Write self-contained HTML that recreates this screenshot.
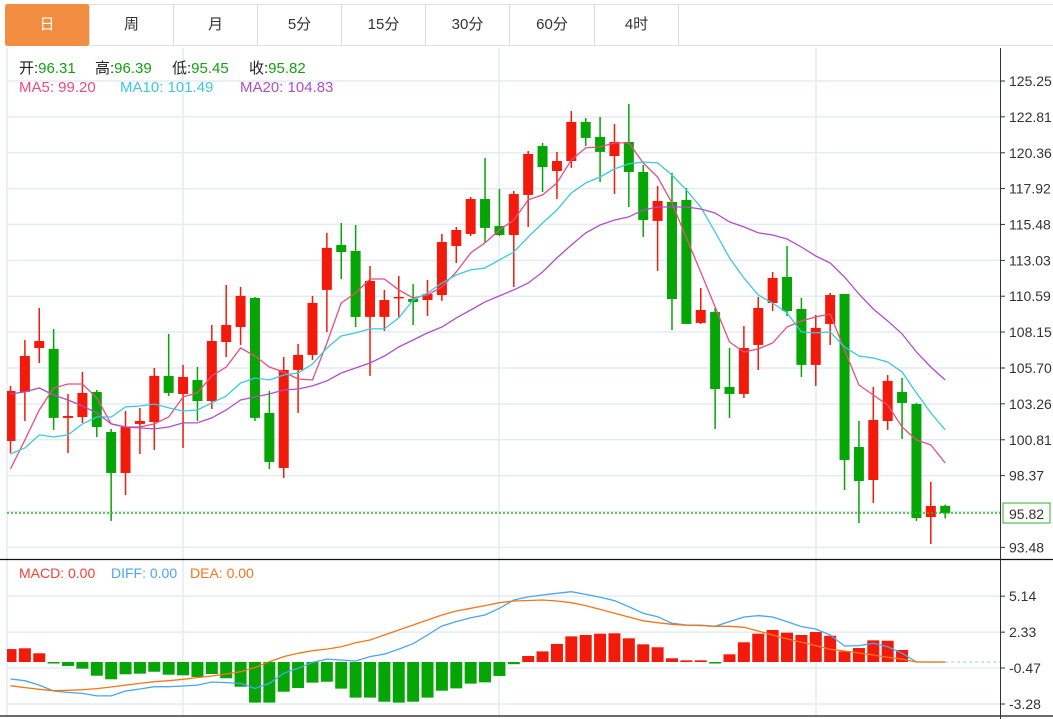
<!DOCTYPE html>
<html><head><meta charset="utf-8">
<style>
body{margin:0;width:1053px;height:719px;overflow:hidden;background:#fff;font-family:"Liberation Sans","Noto Sans CJK SC",sans-serif;}
.tab{position:absolute;top:4px;height:42px;line-height:42px;text-align:center;font-size:15px;color:#333;border-right:1px solid #dcdcdc;box-sizing:border-box;}
</style></head><body>
<div style="position:absolute;left:5px;top:4px;width:1048px;height:42px;border-top:1px solid #e0e0e0;border-bottom:1px solid #e0e0e0;box-sizing:border-box;"></div>
<div class="tab" style="left:5px;width:85px;background:#f28d42;color:#fff;border-radius:3px;">日</div>
<div class="tab" style="left:90px;width:84px;">周</div>
<div class="tab" style="left:174px;width:84px;">月</div>
<div class="tab" style="left:258px;width:84px;">5分</div>
<div class="tab" style="left:342px;width:84px;">15分</div>
<div class="tab" style="left:426px;width:84px;">30分</div>
<div class="tab" style="left:510px;width:85px;">60分</div>
<div class="tab" style="left:595px;width:84px;">4时</div>
<svg id="c" width="1053" height="719" style="position:absolute;left:0;top:0"></svg>
<script>
const priceTicks=[125.25,122.81,120.36,117.92,115.48,113.03,110.59,108.15,105.70,103.26,100.81,98.37,93.48];
const macdTicks=[5.14,2.33,-0.47,-3.28];
const opens=[100.73,104.07,107.06,107.00,102.30,102.36,104.07,101.34,98.55,101.89,102.02,105.16,103.93,104.88,103.45,107.47,108.49,110.47,102.64,98.89,105.57,106.59,111.02,114.08,113.67,109.18,109.18,110.47,110.40,110.33,110.67,114.01,114.83,117.21,115.37,114.76,117.49,120.82,119.12,119.80,122.46,121.44,120.14,121.10,119.05,115.72,117.01,117.15,108.77,109.52,104.41,103.93,107.27,110.13,111.90,109.72,105.91,108.70,110.74,100.32,98.07,102.09,104.07,103.25,95.55,96.31];
const highs=[104.48,107.61,109.79,108.36,103.93,105.43,104.20,101.55,102.77,102.98,105.70,108.02,105.91,105.77,108.63,111.36,111.22,110.54,104.14,106.45,107.34,110.61,114.90,115.58,115.44,112.65,111.02,111.97,111.42,111.70,114.83,115.31,117.35,120.01,117.90,117.76,120.48,121.03,120.42,123.21,122.73,122.80,122.32,123.69,119.53,118.10,118.99,117.96,111.15,109.79,107.06,108.56,110.54,112.24,114.01,110.47,109.31,110.81,110.74,102.09,104.41,105.22,105.02,103.32,97.94,96.39];
const lows=[99.91,102.09,106.04,101.48,99.91,101.96,101.00,95.28,97.05,99.84,100.12,103.79,100.25,102.09,102.91,106.45,107.27,102.09,98.82,98.21,102.64,106.25,108.15,111.76,108.49,105.16,108.22,109.18,108.63,109.24,110.27,112.85,114.69,114.22,114.69,111.22,115.31,117.69,117.21,119.33,120.82,118.37,117.55,116.67,114.63,112.31,108.29,108.70,108.70,101.55,102.30,103.66,105.57,109.58,109.24,105.09,104.48,107.27,97.39,95.14,96.51,101.48,100.87,95.28,93.71,95.45];
const closes=[104.14,106.52,107.54,102.30,102.43,104.00,101.68,98.55,101.68,102.09,105.16,104.00,105.09,103.45,107.54,108.63,110.61,102.30,99.30,105.57,106.59,110.13,113.88,113.60,109.18,111.63,110.33,110.54,110.20,110.74,114.28,115.10,117.21,115.24,114.76,117.55,120.28,119.39,119.80,122.46,121.37,120.42,121.10,119.05,115.78,117.08,110.40,108.70,109.65,104.27,103.93,107.06,109.79,111.83,109.58,105.91,108.43,110.67,99.43,98.00,102.16,104.82,103.32,95.48,96.30,95.82];
const ma5=[98.82,100.80,102.84,104.34,104.61,104.61,103.66,101.89,101.68,101.68,101.89,102.36,103.73,104.00,105.16,105.77,107.06,106.52,105.77,105.43,104.95,104.88,107.40,110.13,110.81,111.76,111.76,111.02,110.47,110.67,111.22,112.24,113.54,114.22,115.10,115.78,117.15,117.49,118.30,119.87,120.69,120.76,121.03,121.03,119.67,118.71,116.94,114.56,112.24,109.86,107.47,106.79,107.00,107.40,108.49,108.90,109.18,109.38,106.93,104.54,103.86,103.18,101.68,100.80,100.46,99.23];
const ma10=[99.84,100.25,101.14,101.00,101.14,101.89,102.36,102.36,103.05,103.11,103.25,102.98,102.77,102.84,103.32,103.79,104.68,105.02,104.88,105.22,105.36,105.97,107.06,107.88,108.09,108.36,108.36,109.11,110.33,110.81,111.49,112.04,112.38,112.51,113.06,113.60,114.63,115.58,116.46,117.62,118.30,118.71,119.26,119.60,119.73,119.67,118.85,117.83,116.67,114.97,113.20,111.83,110.67,110.13,109.45,108.15,108.09,108.15,107.13,106.52,106.38,106.11,105.43,104.00,102.64,101.48];
const ma20=[103.93,104.07,104.34,103.86,103.52,103.11,102.64,101.89,101.68,101.62,101.55,101.68,101.96,101.96,102.30,102.84,103.52,103.73,103.93,104.20,104.27,104.48,104.82,105.36,105.70,106.04,106.52,107.13,107.61,108.09,108.49,109.11,109.65,110.20,110.61,111.02,111.49,112.24,113.20,114.08,114.90,115.44,115.78,115.99,116.46,116.67,116.67,116.67,116.53,116.26,115.65,115.31,114.90,114.76,114.49,113.94,113.33,112.85,111.90,110.74,109.72,108.90,108.02,106.79,105.77,104.88];
const macdHist=[1.01,1.07,0.68,-0.10,-0.31,-0.52,-1.07,-1.35,-0.96,-0.91,-0.76,-0.99,-1.04,-1.17,-0.94,-1.27,-1.93,-3.17,-3.17,-2.32,-2.03,-1.61,-1.54,-2.08,-2.78,-2.78,-3.10,-3.17,-3.10,-2.78,-2.24,-2.06,-1.69,-1.59,-1.09,-0.17,0.47,0.83,1.41,2.00,2.11,2.21,2.24,1.85,1.38,1.15,0.29,0.13,0.13,-0.03,0.60,1.54,2.21,2.50,2.29,2.11,2.34,2.05,0.83,1.09,1.69,1.66,0.94,0,0,0];
const diff=[-1.33,-1.46,-1.80,-2.26,-2.37,-2.45,-2.65,-2.65,-2.26,-2.11,-1.93,-1.93,-1.87,-1.80,-1.56,-1.61,-1.67,-2.06,-1.67,-0.88,-0.49,-0.03,0.23,0.16,0.08,0.42,0.62,1.01,1.43,2.11,2.81,3.15,3.46,3.67,4.19,4.84,5.08,5.23,5.36,5.49,5.28,5.05,4.79,4.32,3.80,3.54,3.02,2.89,2.87,2.79,3.15,3.51,3.62,3.51,3.15,2.76,2.58,2.11,1.25,1.28,1.46,1.19,0.68,0,0,0];
const dea=[-1.85,-2.00,-2.13,-2.24,-2.21,-2.16,-2.08,-1.95,-1.80,-1.67,-1.54,-1.46,-1.35,-1.22,-1.09,-0.94,-0.76,-0.44,0.02,0.42,0.68,0.88,1.01,1.19,1.51,1.72,2.11,2.50,2.89,3.28,3.67,3.98,4.19,4.40,4.63,4.76,4.80,4.84,4.76,4.63,4.40,4.11,3.80,3.51,3.22,3.07,2.94,2.87,2.84,2.79,2.79,2.71,2.42,2.11,1.80,1.54,1.28,0.99,0.86,0.70,0.55,0.37,0.23,0,0,0];
const lastPrice=95.82;

const NS='http://www.w3.org/2000/svg';
const svg=document.getElementById('c');
const xS=i=>10.5+i*14.38;
const yP=p=>81+(125.25-p)*14.68;
const yM=v=>662-v*12.81;
const UP='#f21a0a',DN='#06a506';
function mk(t,a,parent){const e=document.createElementNS(NS,t);for(const k in a)e.setAttribute(k,a[k]);(parent||svg).appendChild(e);return e;}

const defs=mk('defs',{});
const cp1=mk('clipPath',{id:'cp1'},defs);mk('rect',{x:7,y:48,width:993,height:511},cp1);
const cp2=mk('clipPath',{id:'cp2'},defs);mk('rect',{x:7,y:561,width:993,height:155},cp2);

// grid
const grid=mk('g',{});


priceTicks.concat([95.93]).forEach(p=>{mk('line',{x1:7,x2:1000,y1:yP(p),y2:yP(p),stroke:'#e4ecf3','stroke-width':1.5},grid);});
macdTicks.forEach(v=>{mk('line',{x1:7,x2:1000,y1:yM(v),y2:yM(v),stroke:'#e4ecf3','stroke-width':1.5},grid);});
[183,499,816].forEach(x=>{mk('line',{x1:x,x2:x,y1:48,y2:716,stroke:'#e4ecf3','stroke-width':1.5},grid);});
mk('line',{x1:7,x2:7,y1:48,y2:716,stroke:'#e4ecf3','stroke-width':1.5},grid);
mk('line',{x1:0,x2:1053,y1:559.5,y2:559.5,stroke:'#111','stroke-width':1.2},grid);
mk('line',{x1:0,x2:1053,y1:716,y2:716,stroke:'#111','stroke-width':1.2},grid);
mk('line',{x1:1000.5,x2:1000.5,y1:48,y2:719,stroke:'#333','stroke-width':1},grid);

// candles
const cg=mk('g',{'clip-path':'url(#cp1)'});


closes.forEach((c,i)=>{
  const o=opens[i],col=c>=o?UP:DN,x=xS(i);
  const g=mk('g',{},cg);
  
  
  mk('line',{x1:x,x2:x,y1:yP(highs[i]),y2:yP(lows[i]),stroke:col,'stroke-width':1.5},g);
  const t=yP(Math.max(o,c)),b=yP(Math.min(o,c));
  mk('rect',{x:x-5,y:t,width:10,height:Math.max(b-t,1.5),fill:col},g);
});
function line(arr,f,col,name,clip){
  const pts=arr.map((v,i)=>xS(i).toFixed(1)+','+f(v).toFixed(1)).join(' ');
  const e=mk('polyline',{points:pts,fill:'none',stroke:col,'stroke-width':1.3,'clip-path':clip});
  
  
}
line(ma5,yP,'#ea4d7e','ma5-line','url(#cp1)');
line(ma10,yP,'#3cc9de','ma10-line','url(#cp1)');
line(ma20,yP,'#b04fc8','ma20-line','url(#cp1)');
const pl=mk('line',{x1:7,x2:1000,y1:yP(lastPrice),y2:yP(lastPrice),stroke:'#2bb52b','stroke-width':1.5,'stroke-dasharray':'2,2'});



// macd
const mg=mk('g',{'clip-path':'url(#cp2)'});


macdHist.forEach((v,i)=>{
  if(v===0)return;
  const x=xS(i),y0=yM(0),y1=yM(v);
  const r=mk('rect',{x:x-6,y:Math.min(y0,y1),width:12,height:Math.max(Math.abs(y1-y0),1.5),fill:v>0?UP:DN},mg);
  
  
});
const zl=mk('line',{x1:xS(65),x2:1000,y1:yM(0),y2:yM(0),stroke:'#8cc8ee','stroke-width':1,'stroke-dasharray':'3,3'});


line(diff,yM,'#4aa6ee','diff-line','url(#cp2)');
line(dea,yM,'#f5761a','dea-line','url(#cp2)');

// axis labels
function txt(x,y,s,col,size,name,anchor){
  const t=mk('text',{x:x,y:y,fill:col,'font-size':size,'font-family':'"Liberation Sans","Noto Sans CJK SC",sans-serif','text-anchor':anchor||'start'});
  t.textContent=s;
  
  
  return t;
}
priceTicks.forEach(p=>{
  mk('line',{x1:1000,x2:1005,y1:yP(p),y2:yP(p),stroke:'#333'});
  txt(1009,yP(p)+5,p.toFixed(2),'#333',14,'y-tick-label');
});
macdTicks.forEach(v=>{
  mk('line',{x1:1000,x2:1005,y1:yM(v),y2:yM(v),stroke:'#333'});
  txt(1009,yM(v)+5,v.toFixed(2),'#333',14,'macd-tick-label');
});
const box=mk('rect',{x:1003,y:yP(lastPrice)-10,width:47,height:20,fill:'#fff',stroke:'#2bb52b'});


txt(1009,yP(lastPrice)+6,lastPrice.toFixed(2),'#333',14,'last-price-label');
</script>
<div style="position:absolute;left:19px;top:57px;font-size:15px;color:#222;white-space:nowrap;">
<span style="position:absolute;left:0">开:<span style="color:#13a013">96.31</span></span>
<span style="position:absolute;left:76px">高:<span style="color:#13a013">96.39</span></span>
<span style="position:absolute;left:153px">低:<span style="color:#13a013">95.45</span></span>
<span style="position:absolute;left:230px">收:<span style="color:#13a013">95.82</span></span>
</div>
<div style="position:absolute;left:19px;top:79px;font-size:15px;white-space:nowrap;">
<span style="position:absolute;left:0;color:#ea4d7e">MA5: 99.20</span>
<span style="position:absolute;left:101px;color:#3cc9de">MA10: 101.49</span>
<span style="position:absolute;left:221px;color:#b04fc8">MA20: 104.83</span>
</div>
<div style="position:absolute;left:19px;top:565px;font-size:14px;white-space:nowrap;">
<span style="position:absolute;left:0;color:#f0403a">MACD: 0.00</span>
<span style="position:absolute;left:92px;color:#4aa6ee">DIFF: 0.00</span>
<span style="position:absolute;left:171px;color:#f5761a">DEA: 0.00</span>
</div>
</body></html>
